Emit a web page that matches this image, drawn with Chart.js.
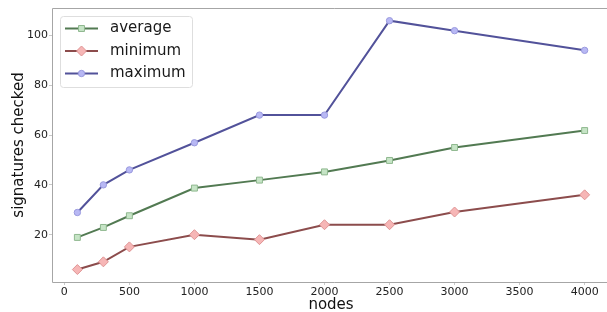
<!DOCTYPE html>
<html>
<head>
<meta charset="utf-8">
<script src="https://cdn.jsdelivr.net/npm/chart.js@4/dist/chart.umd.min.js"></script>
<style>
  html, body { margin: 0; padding: 0; background: #fff; overflow: hidden; }
  #wrap { width: 616px; height: 312px; }
</style>
</head>
<body>
<div id="wrap"><canvas id="chart" width="616" height="312"></canvas></div>
<script>
var nodes = [100, 300, 500, 1000, 1500, 2000, 2500, 3000, 4000];
var averageChecked = [18.9, 22.9, 27.6, 38.7, 41.9, 45.2, 49.8, 55.0, 61.8];
var minimumChecked = [6, 9.1, 15.1, 20, 18, 24, 24, 29.1, 36];
var maximumChecked = [28.9, 40, 46, 56.9, 68, 68, 105.9, 101.9, 94];
var seriesLabels = ['average', 'minimum', 'maximum'];
var xTicks = [0, 500, 1000, 1500, 2000, 2500, 3000, 3500, 4000];
var yTicks = [20, 40, 60, 80, 100];

var font = 'DejaVu Sans';

function pts(ys) {
    return nodes.map(function(x, i) { return { x: x, y: ys[i] }; });
}

var datasets = [{
    label: seriesLabels[0],
    data: pts(averageChecked),
    borderColor: '#527a52',
    backgroundColor: '#c6e4c6',
    pointBorderColor: '#8fb88f',
    pointStyle: 'rect',
    pointRadius: 4.2,
    pointBorderWidth: 1
}, {
    label: seriesLabels[1],
    data: pts(minimumChecked),
    borderColor: '#8c4c4c',
    backgroundColor: '#f6b6b6',
    pointBorderColor: '#df9494',
    pointStyle: 'rectRot',
    pointRadius: 5,
    pointBorderWidth: 1
}, {
    label: seriesLabels[2],
    data: pts(maximumChecked),
    borderColor: '#52529a',
    backgroundColor: '#b8b8f4',
    pointBorderColor: '#9a9ade',
    pointStyle: 'circle',
    pointRadius: 3.2,
    pointBorderWidth: 1
}];
datasets.forEach(function(d) {
    d.borderWidth = 2;
    d.pointBackgroundColor = d.backgroundColor;
    d.pointHoverRadius = d.pointRadius;
    d.tension = 0;
    d.fill = false;
});

// spines (top, left, bottom) and legend box
var framePlugin = {
    id: 'frame',
    afterDraw: function(chart) {
        var ctx = chart.ctx, a = chart.chartArea;
        ctx.save();
        ctx.strokeStyle = '#a6a6a6';
        ctx.lineWidth = 1;
        ctx.beginPath();
        ctx.moveTo(chart.width, a.top + 0.5);
        ctx.lineTo(a.left + 0.5, a.top + 0.5);
        ctx.lineTo(a.left + 0.5, a.bottom + 0.5);
        ctx.lineTo(chart.width, a.bottom + 0.5);
        ctx.stroke();
        ctx.restore();

        // legend
        var bx = 60.5, by = 16.5, bw = 132, bh = 71, r = 3;
        ctx.save();
        ctx.beginPath();
        ctx.moveTo(bx + r, by);
        ctx.arcTo(bx + bw, by, bx + bw, by + bh, r);
        ctx.arcTo(bx + bw, by + bh, bx, by + bh, r);
        ctx.arcTo(bx, by + bh, bx, by, r);
        ctx.arcTo(bx, by, bx + bw, by, r);
        ctx.closePath();
        ctx.fillStyle = 'rgba(255,255,255,0.85)';
        ctx.fill();
        ctx.strokeStyle = '#dedede';
        ctx.stroke();
        var rows = [28.5, 51, 73.5];
        chart.data.datasets.forEach(function(d, i) {
            var y = rows[i];
            ctx.strokeStyle = d.borderColor;
            ctx.lineWidth = 2;
            ctx.beginPath();
            ctx.moveTo(65, y);
            ctx.lineTo(98, y);
            ctx.stroke();
            ctx.fillStyle = d.pointBackgroundColor;
            ctx.strokeStyle = d.pointBorderColor;
            ctx.lineWidth = 1;
            Chart.helpers.drawPoint(ctx, { pointStyle: d.pointStyle, radius: d.pointRadius, borderWidth: 1, rotation: 0 }, 81.5, y);
            ctx.fillStyle = '#1a1a1a';
            ctx.font = '15px "' + font + '"';
            ctx.textBaseline = 'middle';
            ctx.textAlign = 'left';
            ctx.fillText(d.label, 110, y);
        });
        ctx.restore();
    }
};

new Chart(document.getElementById('chart'), {
    type: 'line',
    data: { datasets: datasets },
    options: {
        responsive: false,
        animation: false,
        events: [],
        layout: { padding: { top: 8, right: 1, left: 0, bottom: 0 } },
        plugins: { legend: { display: false }, tooltip: { enabled: false } },
        scales: {
            x: {
                type: 'linear',
                min: -95,
                max: 4195,
                afterBuildTicks: function(axis) {
                    axis.ticks = xTicks.map(function(v) { return { value: v }; });
                },
                afterFit: function(scale) { scale.height = 30; },
                grid: { drawOnChartArea: false, drawTicks: true, tickLength: 3, color: '#c8c8c8' },
                border: { display: false },
                ticks: {
                    autoSkip: false, maxRotation: 0, padding: 1,
                    color: '#222', font: { family: font, size: 11 },
                    callback: function(v) { return String(v); }
                },
                title: {
                    display: true, text: 'nodes', color: '#111',
                    font: { family: font, size: 15, lineHeight: 0.87 },
                    padding: { top: 0, bottom: 0 }
                }
            },
            y: {
                type: 'linear',
                min: 1,
                max: 111,
                afterBuildTicks: function(axis) {
                    axis.ticks = yTicks.map(function(v) { return { value: v }; });
                },
                afterFit: function(scale) { scale.width = 52; },
                grid: { drawOnChartArea: false, drawTicks: true, tickLength: 3, color: '#c8c8c8' },
                border: { display: false },
                ticks: {
                    autoSkip: false, padding: 1,
                    color: '#222', font: { family: font, size: 11 },
                    callback: function(v) { return String(v); }
                },
                title: {
                    display: true, text: 'signatures checked', color: '#111',
                    font: { family: font, size: 15, lineHeight: 1.2 },
                    padding: { top: 10, bottom: 0 }
                }
            }
        }
    },
    plugins: [framePlugin]
});
</script>
</body>
</html>
